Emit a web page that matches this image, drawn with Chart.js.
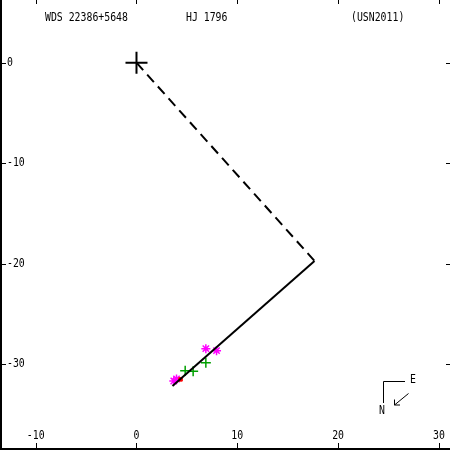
<!DOCTYPE html>
<html>
<head>
<meta charset="utf-8">
<script src="https://cdn.jsdelivr.net/npm/chart.js@4/dist/chart.umd.min.js"></script>
<style>
html,body{margin:0;padding:0;background:#fff;}
#wrap{width:450px;height:450px;}
</style>
</head>
<body>
<div id="wrap"><canvas id="c" width="450" height="450"></canvas></div>
<script>
// ---- data ----
const titleLeft = "WDS 22386+5648";
const titleMid = "HJ 1796";
const titleRight = "(USN2011)";
const xTicks = [-10, 0, 10, 20, 30];
const yTicks = [0, -10, -20, -30];
const xTickLabels = ["-10", "0", "10", "20", "30"];
const yTickLabels = ["0", "-10", "-20", "-30"];
const xRange = [-13.54, 31.10];
const yRange = [-38.575, 6.245];
const primaryX = [0];
const primaryY = [0];
const nodeLineX = [0, 17.66];
const nodeLineY = [0, -19.74];
const motionX = [17.66, 3.57];
const motionY = [-19.74, -32.2];
const speckleX = [6.88, 7.94, 3.70, 3.97];
const speckleY = [-28.48, -28.68, -31.7, -31.5];
const microX = [6.88, 4.83, 5.62];
const microY = [-29.88, -30.68, -30.74];
const otherX = [4.37];
const otherY = [-31.54];

const pts = (xs, ys) => xs.map((x, i) => ({x: x, y: ys[i]}));

function txt(ctx, s, x, y, align) {
  ctx.save();
  ctx.translate(x, y);
  ctx.scale(0.82, 1);
  ctx.textAlign = align;
  ctx.textBaseline = 'middle';
  ctx.fillText(s, 0, 0);
  ctx.restore();
}

const framePlugin = {
  id: 'frame',
  afterDraw(chart) {
    const ctx = chart.ctx;
    const xs = chart.scales.x, ys = chart.scales.y;
    const W = chart.width, H = chart.height;
    ctx.save();
    ctx.strokeStyle = '#000';
    ctx.fillStyle = '#000';
    // frame left & bottom
    ctx.lineWidth = 2;
    ctx.beginPath();
    ctx.moveTo(1, 0); ctx.lineTo(1, H);
    ctx.moveTo(0, H - 1); ctx.lineTo(W, H - 1);
    ctx.stroke();
    // ticks
    ctx.lineWidth = 1;
    ctx.beginPath();
    xTicks.forEach(v => {
      const p = Math.round(xs.getPixelForValue(v)) + 0.5;
      ctx.moveTo(p, H - 1); ctx.lineTo(p, H - 7);
      ctx.moveTo(p, 0); ctx.lineTo(p, 4);
    });
    yTicks.forEach(v => {
      const p = Math.round(ys.getPixelForValue(v)) + 0.5;
      ctx.moveTo(0, p); ctx.lineTo(6, p);
      ctx.moveTo(W, p); ctx.lineTo(W - 4, p);
    });
    ctx.stroke();
    // tick labels
    ctx.font = '12px "DejaVu Sans Mono"';
    xTicks.forEach((v, i) => {
      txt(ctx, xTickLabels[i], xs.getPixelForValue(v), 436, 'center');
    });
    yTicks.forEach((v, i) => {
      txt(ctx, yTickLabels[i], 7, ys.getPixelForValue(v), 'left');
    });
    // titles
    txt(ctx, titleLeft, 45, 17.5, 'left');
    txt(ctx, titleMid, 186, 17.5, 'left');
    txt(ctx, titleRight, 351, 17.5, 'left');
    // compass
    ctx.lineWidth = 1;
    ctx.beginPath();
    ctx.moveTo(405, 381.5); ctx.lineTo(383.5, 381.5); ctx.lineTo(383.5, 403);
    ctx.moveTo(408.5, 393.5); ctx.lineTo(394.5, 405);
    ctx.moveTo(394.5, 405); ctx.lineTo(394.5, 399.5);
    ctx.moveTo(394.5, 405); ctx.lineTo(400, 405);
    ctx.stroke();
    txt(ctx, 'E', 413, 380, 'center');
    txt(ctx, 'N', 382, 411, 'center');
    ctx.restore();
  }
};

new Chart(document.getElementById('c'), {
  type: 'scatter',
  data: {
    datasets: [
      {data: pts(nodeLineX, nodeLineY), showLine: true, borderColor: '#000', borderWidth: 2,
       borderDash: [10, 6], pointRadius: 0, fill: false},
      {data: pts(motionX, motionY), showLine: true, borderColor: '#000', borderWidth: 2,
       pointRadius: 0, fill: false},
      {data: pts(microX, microY), pointStyle: 'cross', pointRadius: 5, borderWidth: 1.5,
       borderColor: '#00a000', backgroundColor: '#00a000'},
      {data: pts(otherX, otherY), pointStyle: 'rect', pointRadius: 2.5, borderWidth: 1,
       borderColor: '#ff0000', backgroundColor: '#ff0000'},
      {data: pts(speckleX, speckleY), pointStyle: 'star', pointRadius: 4.5, borderWidth: 1.5,
       borderColor: '#ff00ff', backgroundColor: '#ff00ff'},
      {data: pts(primaryX, primaryY), pointStyle: 'cross', pointRadius: 11, borderWidth: 2,
       borderColor: '#000', backgroundColor: '#000'}
    ]
  },
  options: {
    responsive: false,
    animation: false,
    layout: {padding: 0, autoPadding: false},
    plugins: {legend: {display: false}, tooltip: {enabled: false}},
    scales: {
      x: {type: 'linear', min: xRange[0], max: xRange[1], display: false},
      y: {type: 'linear', min: yRange[0], max: yRange[1], display: false}
    }
  },
  plugins: [framePlugin]
});
</script>
</body>
</html>
